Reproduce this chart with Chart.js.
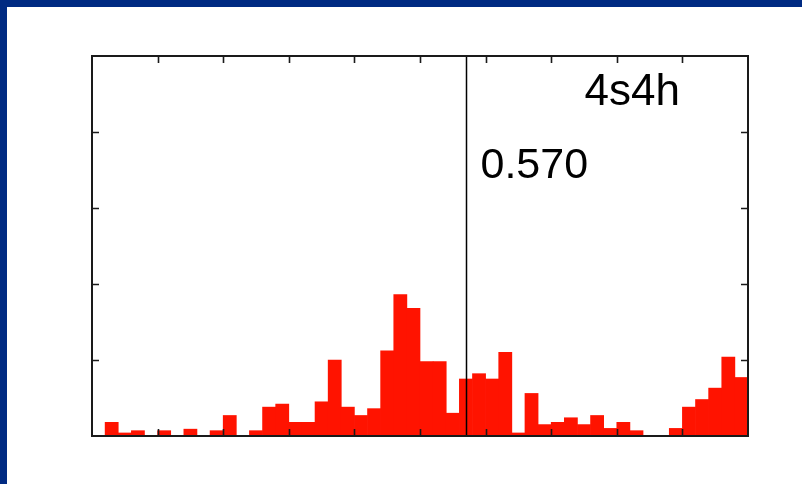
<!DOCTYPE html>
<html>
<head>
<meta charset="utf-8">
<script src="https://cdn.jsdelivr.net/npm/chart.js@4/dist/chart.umd.min.js"></script>
<style>
  html, body { margin: 0; padding: 0; background: #fff; }
  #wrap {
    width: 802px; height: 484px; box-sizing: border-box;
    border-top: 7px solid #002a82; border-left: 7px solid #002a82;
    position: relative; background: #fff;
  }
  #wrap canvas { display: block; }
</style>
</head>
<body>
<div id="wrap"><canvas id="hist" width="795" height="477"></canvas></div>
<script>
  // histogram bins over [0, 1], width 0.02
  const BIN_WIDTH = 0.02;
  const binValues = [
    0.00, 0.18, 0.04, 0.07, 0.00, 0.07, 0.00, 0.09, 0.00, 0.07,
    0.27, 0.00, 0.07, 0.38, 0.42, 0.18, 0.18, 0.45, 1.00, 0.38,
    0.27, 0.36, 1.12, 1.86, 1.68, 0.98, 0.98, 0.30, 0.75, 0.82,
    0.75, 1.10, 0.04, 0.56, 0.15, 0.18, 0.24, 0.15, 0.27, 0.10,
    0.18, 0.07, 0.00, 0.00, 0.10, 0.38, 0.48, 0.63, 1.04, 0.77
  ];
  const markerValue = 0.570;
  const markerLabel = '0.570';
  const handLabel = '4s4h';
  const xTicks = [0.1, 0.2, 0.3, 0.4, 0.5, 0.6, 0.7, 0.8, 0.9];
  const yTicks = [1, 2, 3, 4];

  const binCenters = binValues.map((_, i) => (i + 0.5) * BIN_WIDTH);

  const RED = '#ff1300', INK = '#1a1a1a';
  const FONT = "'Liberation Sans', Arial, sans-serif";

  // frame, inward ticks, marker line and labels
  const framePlugin = {
    id: 'frame',
    afterDatasetsDraw(chart) {
      const { ctx, chartArea: a, scales: { x, y } } = chart;
      const T = 7;
      ctx.save();
      ctx.strokeStyle = INK;
      ctx.lineWidth = 1.6;
      ctx.beginPath();
      xTicks.forEach(v => {
        const px = Math.round(x.getPixelForValue(v)) + 0.5;
        ctx.moveTo(px, a.top); ctx.lineTo(px, a.top + T);
        ctx.moveTo(px, a.bottom); ctx.lineTo(px, a.bottom - T);
      });
      yTicks.forEach(v => {
        const py = Math.round(y.getPixelForValue(v)) + 0.5;
        ctx.moveTo(a.left, py); ctx.lineTo(a.left + T, py);
        ctx.moveTo(a.right, py); ctx.lineTo(a.right - T, py);
      });
      ctx.stroke();

      // marker line
      const mx = Math.round(x.getPixelForValue(markerValue)) + 0.5;
      ctx.lineWidth = 1.5;
      ctx.strokeStyle = '#000';
      ctx.beginPath();
      ctx.moveTo(mx, a.top); ctx.lineTo(mx, a.bottom);
      ctx.stroke();

      // frame
      ctx.lineWidth = 2;
      ctx.strokeStyle = INK;
      ctx.strokeRect(a.left, a.top, a.right - a.left, a.bottom - a.top);

      ctx.fillStyle = '#000';
      ctx.textBaseline = 'alphabetic';
      ctx.font = '44px ' + FONT;
      ctx.textAlign = 'right';
      ctx.fillText(handLabel, a.right - 68, a.top + 49);
      ctx.textAlign = 'left';
      ctx.font = '43px ' + FONT;
      ctx.fillText(markerLabel, mx + 14, a.top + 122);
      ctx.restore();
    }
  };

  new Chart(document.getElementById('hist'), {
    type: 'bar',
    data: {
      labels: binCenters,
      datasets: [{
        data: binCenters.map((c, i) => ({ x: c, y: binValues[i] })),
        backgroundColor: RED,
        borderWidth: 0,
        barPercentage: 1,
        categoryPercentage: 1
      }]
    },
    options: {
      responsive: false,
      animation: false,
      layout: { padding: { left: 85, top: 49, right: 54, bottom: 48 } },
      scales: {
        x: { type: 'linear', min: 0, max: 1, offset: false, display: false },
        y: { min: 0, max: 5, display: false }
      },
      plugins: { legend: { display: false }, tooltip: { enabled: false } }
    },
    plugins: [framePlugin]
  });
</script>
</body>
</html>
